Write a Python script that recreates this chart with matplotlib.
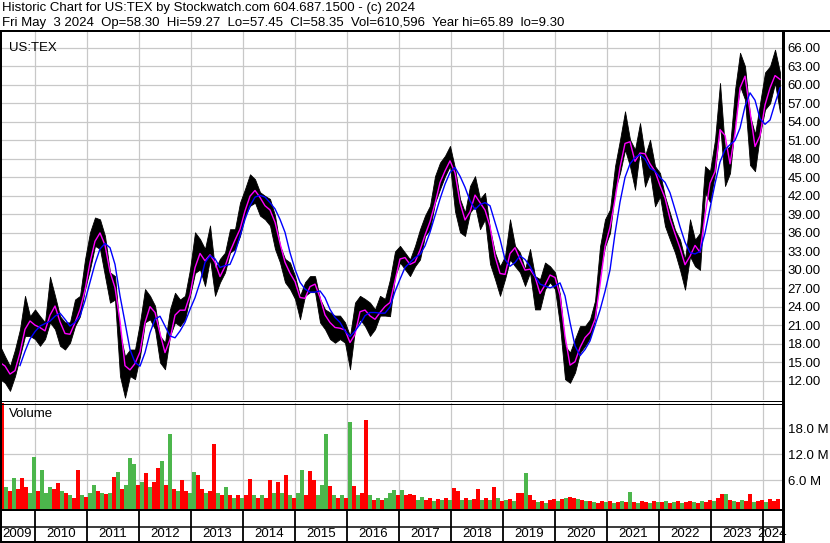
import numpy as np
import pandas as pd
import matplotlib
matplotlib.use("Agg")
import matplotlib.pyplot as plt
from matplotlib.lines import Line2D

W, H = 830, 543
FONT = "Liberation Sans"

# price samples, one every ~5 weeks, from May 2009 to May 2024
first_year = 2009.327
last_year = 2024.327
high = [17.7, 16.0, 14.4, 17.1, 20.4, 25.8, 22.5, 23.6, 22.5, 21.5, 28.9, 25.8, 22.5,
        21.5, 21.5, 25.2, 25.8, 31.7, 36.1, 38.5, 38.2, 35.5, 29.6, 29.0, 19.8, 16.0,
        17.1, 17.1, 21.5, 26.9, 25.8, 24.2, 19.3, 18.2, 23.6, 26.3, 25.2, 25.8, 30.1,
        36.1, 35.0, 33.4, 37.2, 30.1, 31.8, 32.8, 36.6, 36.6, 40.9, 43.1, 45.5, 44.7,
        42.6, 42.0, 41.5, 38.8, 33.9, 31.8, 31.2, 29.0, 25.8, 28.0, 29.0, 29.0, 25.3,
        23.6, 23.1, 22.6, 22.6, 21.5, 19.3, 24.7, 25.8, 25.3, 24.7, 23.6, 25.8, 25.3,
        28.5, 33.0, 33.9, 32.8, 31.7, 33.9, 36.6, 38.8, 40.4, 45.2, 47.4, 48.5, 50.1,
        46.5, 41.5, 39.3, 43.6, 45.2, 41.5, 42.5, 36.6, 32.8, 30.6, 32.2, 38.2, 33.9,
        32.8, 30.1, 33.4, 29.0, 28.5, 31.2, 30.6, 29.6, 26.0, 17.7, 16.6, 18.8, 20.9,
        20.9, 22.0, 25.0, 33.8, 38.2, 39.8, 46.8, 51.1, 55.7, 51.1, 49.5, 53.8, 48.5,
        51.1, 46.8, 45.7, 41.9, 39.2, 36.5, 34.9, 31.7, 38.2, 34.9, 36.0, 46.8, 46.0,
        51.1, 60.3, 49.5, 50.0, 59.2, 65.2, 63.0, 55.0, 52.0, 57.0, 62.0, 63.0, 65.7,
        62.0]
low = [12.3, 11.7, 10.4, 12.8, 16.0, 19.3, 19.3, 18.8, 17.7, 18.8, 21.5, 20.4, 17.7,
       17.1, 18.2, 20.9, 22.5, 26.9, 30.1, 33.9, 33.4, 29.0, 24.7, 25.2, 12.8, 9.3,
       12.8, 12.3, 16.0, 21.5, 22.0, 20.4, 15.0, 13.9, 19.3, 21.5, 20.9, 22.0, 25.8,
       29.5, 30.1, 27.4, 31.8, 25.8, 28.0, 29.6, 32.8, 33.4, 35.5, 38.8, 40.4, 40.9,
       38.8, 38.2, 37.2, 33.4, 31.2, 28.0, 26.9, 25.3, 22.0, 25.8, 26.4, 26.4, 21.5,
       20.4, 18.8, 18.2, 18.8, 18.2, 13.9, 20.4, 22.0, 20.9, 19.3, 20.4, 22.6, 22.6,
       22.5, 29.0, 31.2, 30.1, 29.0, 30.6, 31.7, 35.5, 36.6, 40.9, 43.1, 45.2, 46.9,
       39.5, 36.1, 35.5, 39.3, 40.4, 36.6, 38.2, 31.0, 28.5, 25.8, 28.5, 31.7, 30.6,
       29.6, 27.4, 29.6, 23.6, 23.6, 26.9, 28.0, 26.9, 21.0, 12.3, 11.7, 13.4, 16.6,
       17.7, 19.0, 22.0, 29.5, 33.8, 36.0, 43.0, 45.7, 49.5, 46.8, 43.0, 49.5, 43.5,
       45.7, 40.3, 41.9, 37.1, 34.9, 32.8, 30.0, 26.8, 32.2, 30.6, 30.0, 42.5, 41.0,
       45.7, 53.8, 43.6, 45.7, 53.8, 59.8, 57.6, 47.0, 46.0, 52.0, 56.0, 57.0, 60.3,
       55.5]
# long moving average (blue line)
ma_long = [np.nan, np.nan, np.nan, np.nan, 14.5, 16.8, 18.8, 20.0, 20.9, 21.3, 21.7,
           22.5, 23.0, 22.0, 20.9, 21.5, 22.5, 25.0, 28.0, 31.0, 33.4, 34.3, 33.6, 30.9,
           25.8, 21.5, 17.1, 15.0, 14.4, 16.6, 19.8, 22.0, 22.5, 20.9, 19.3, 19.0, 20.1,
           21.5, 23.6, 25.5, 28.0, 31.2, 32.3, 31.8, 30.4, 30.7, 30.9, 32.8, 35.5, 38.2,
           40.4, 41.8, 42.1, 41.8, 40.9, 39.9, 38.2, 36.1, 32.8, 30.1, 28.0, 26.9, 26.4,
           26.4, 26.6, 25.5, 23.6, 22.3, 21.5, 20.1, 19.2, 20.1, 21.2, 22.6, 23.1, 23.1,
           23.0, 23.0, 24.0, 26.5, 28.5, 30.4, 31.2, 32.0, 32.5, 33.9, 36.1, 38.8, 41.5,
           43.9, 45.8, 46.6, 45.2, 43.4, 41.2, 39.8, 40.6, 40.9, 40.4, 37.7, 35.0, 31.7,
           30.6, 31.2, 32.3, 31.7, 30.6, 29.0, 27.7, 27.4, 27.1, 27.4, 27.9, 25.8, 21.5,
           17.7, 16.1, 17.1, 18.5, 21.0, 23.5, 26.5, 30.0, 35.9, 41.0, 45.0, 47.2, 48.2,
           48.7, 48.0, 46.5, 46.0, 45.0, 44.2, 42.5, 39.8, 37.0, 34.5, 32.8, 32.6, 33.0,
           36.0, 40.0, 44.0, 47.5, 49.5, 50.3, 51.0, 53.0, 56.5, 58.7, 57.5, 54.5, 53.6,
           54.3, 57.0, 59.5]

# volume, millions of shares per 4-week period, and up(g)/down(r) colour
vol_start = 2009.327
volume = [24, 4.5, 3.5, 6.5, 4, 6.6, 4.5, 3, 11.3, 3.5, 8.4, 3, 4.5,
          4, 5.3, 3.5, 3, 2.5, 2, 8.4, 2.5, 2.2, 3, 4.9, 3.5, 3,
          2.8, 3, 6.8, 8, 4, 5, 11.1, 9.8, 5, 5.5, 7.6, 4.5, 5.5,
          8.8, 10.5, 5, 16.7, 4, 3.5, 6.1, 3.5, 3, 8, 7.2, 4, 3,
          3.5, 14.4, 3, 2.5, 4.5, 2.5, 2, 2.5, 2, 2.5, 6.3, 2.5, 2,
          2.5, 2, 6.1, 3, 5.7, 3, 7.2, 2.5, 2, 3, 8.4, 2.5, 8.2,
          6.1, 2.5, 4.9, 16.7, 4.7, 2.5, 2, 2.5, 2, 19.5, 4.7, 2.5, 3,
          19.9, 2.5, 1.5, 2, 1.5, 2, 3, 3.8, 2.5, 3.8, 2.5, 2.8, 2.6,
          1.5, 2.2, 1.5, 2, 1.2, 1.8, 1.5, 2, 1.5, 4.2, 3.6, 1.5, 2,
          1.5, 1.8, 3.9, 1.5, 2, 1.5, 4.4, 2, 1.2, 1.5, 1.8, 1.2, 3,
          3, 7.6, 2.6, 1.5, 1, 1.2, 0.8, 1.5, 1.8, 1.2, 1.8, 2, 2.2,
          2, 1.6, 1.5, 1.2, 1.2, 1, 0.8, 1.2, 1, 1.2, 0.8, 1, 1.3,
          1, 3.2, 1, 0.8, 1.2, 1, 0.8, 1.2, 1, 1, 1.2, 0.8, 1,
          1.2, 0.8, 1, 1.2, 1, 0.8, 1.2, 1, 1.5, 1.2, 2, 2.8, 2.8,
          1.5, 1.2, 1, 1.5, 1.2, 2.8, 1, 1.2, 1.5, 1, 1.8, 1.2, 1.7]
vol_dir = ("rgrgrrrggrggg" "rrgrgrrgrggrg" "rgrgrgggrgrgr" "rgrgrgrrggrrg"
           "rrgrgrgrgrrgr" "grrgrgrgrggrr" "rgggrgrgrgrgr" "rgrgrgggrgrrr"
           "ggrrgrgrgrrgr" "grrgrgrgrgrgr" "rgrrgrgrrgrgr" "rgrgrgrrgrgrg"
           "rgrgrrgrgrgrg" "rgrrgrgrrgrrg" "rgrgrrgrrgrrr")

years = np.linspace(first_year, last_year, len(high))
mid = (np.array(high) + np.array(low)) / 2
# short moving average (magenta line) from the bar midpoints
ma_short = pd.Series(mid).rolling(2, min_periods=1).mean()

bin_w = 4 / 52
vol_t = vol_start + (np.arange(len(volume)) + 0.5) * bin_w
vol_col = ['#ff0000' if c == 'r' else '#4cb64c' for c in vol_dir]

x_lo, x_hi = 2009.327, 2024.365
year_lines = np.arange(2010, 2025)

fig = plt.figure(figsize=(W / 100, H / 100), dpi=100)


def box(top, bottom):
    return [0, 1 - bottom / H, 782 / W, (bottom - top) / H]


grid_kw = dict(color='#c8c8c8', lw=0.9, zorder=0)

# price panel
ax = fig.add_axes(box(32, 400))
ax.set_xlim(x_lo, x_hi)
ax.set_ylim(8.92, 68.56)
for yv in np.arange(12, 67, 3):
    ax.axhline(yv, **grid_kw)
for xv in year_lines:
    ax.axvline(xv, **grid_kw)
ax.fill_between(years, low, high, color='black', lw=0.6, edgecolor='black', zorder=2)
ax.plot(years, ma_short, color='#ff00ff', lw=1.0, zorder=3)
ax.plot(years, ma_long, color='#0000ff', lw=1.0, zorder=4)
ax.set_yticks(np.arange(12, 67, 3))
ax.set_yticklabels(['%.2f' % v for v in np.arange(12, 67, 3)])
ax.yaxis.tick_right()
ax.tick_params(axis='y', length=0, pad=4, labelsize=9.5)
ax.set_xticks([])
for s in ax.spines.values():
    s.set_visible(False)
ax.text(0.011, 0.973, 'US:TEX', transform=ax.transAxes, ha='left', va='top',
        fontsize=9.5, family=FONT)

# volume panel
axv = fig.add_axes(box(403, 509))
axv.set_xlim(x_lo, x_hi)
axv.set_ylim(-0.62, 23.85)
for yv in [6, 12, 18]:
    axv.axhline(yv, **grid_kw)
for xv in year_lines:
    axv.axvline(xv, **grid_kw)
vol_arr = np.array(volume)
axv.bar(vol_t, vol_arr + 0.62, bottom=-0.62, width=bin_w, color=vol_col, lw=0, zorder=2)
axv.set_yticks([6, 12, 18])
axv.set_yticklabels(['%.1f M' % v for v in [6, 12, 18]])
axv.yaxis.tick_right()
axv.tick_params(axis='y', length=0, pad=4, labelsize=9.5)
axv.set_xticks([])
for s in axv.spines.values():
    s.set_visible(False)
axv.text(0.011, 0.95, 'Volume', transform=axv.transAxes, ha='left', va='top',
         fontsize=9.5, family=FONT)

# year label strip
axl = fig.add_axes(box(509, 541))
axl.set_xlim(x_lo, x_hi)
axl.set_ylim(0, 1)
axl.axis('off')
edges = np.concatenate([[x_lo], year_lines, [x_hi]])
for i in range(len(edges) - 1):
    axl.text((edges[i] + edges[i + 1]) / 2, 0.22, str(2009 + i), ha='center', va='center',
             fontsize=9.5, family=FONT)
for xv in year_lines:
    axl.axvline(xv, color='black', lw=1.3)

for a in (ax, axv):
    for lab in a.get_yticklabels():
        lab.set_family(FONT)


def hline(y, x0, x1, w):
    fig.add_artist(Line2D([x0, x1], [H - y, H - y], transform=None, color='black',
                          lw=w * 0.72, solid_capstyle='butt'))


def vline(x, y0, y1, w):
    fig.add_artist(Line2D([x, x], [H - y0, H - y1], transform=None, color='black',
                          lw=w * 0.72, solid_capstyle='butt'))


hline(31, 0, W, 2)
hline(401, 0, 782, 1)
hline(403.5, 0, 782, 1)
hline(509.5, 0, 782, 2)
hline(527, 0, 782, 1.5)
hline(541.5, 0, 782, 2)
vline(1, 30, 543, 2)
vline(783, 30, 543, 3)

fig.text(2 / W, 1 - 8 / H, 'Historic Chart for US:TEX by Stockwatch.com 604.687.1500 - (c) 2024',
         ha='left', va='center', fontsize=9.5, family=FONT)
fig.text(2 / W, 1 - 23 / H,
         'Fri May  3 2024  Op=58.30  Hi=59.27  Lo=57.45  Cl=58.35  Vol=610,596  Year hi=65.89  lo=9.30',
         ha='left', va='center', fontsize=9.5, family=FONT)

fig.savefig('out.png', dpi=100)
